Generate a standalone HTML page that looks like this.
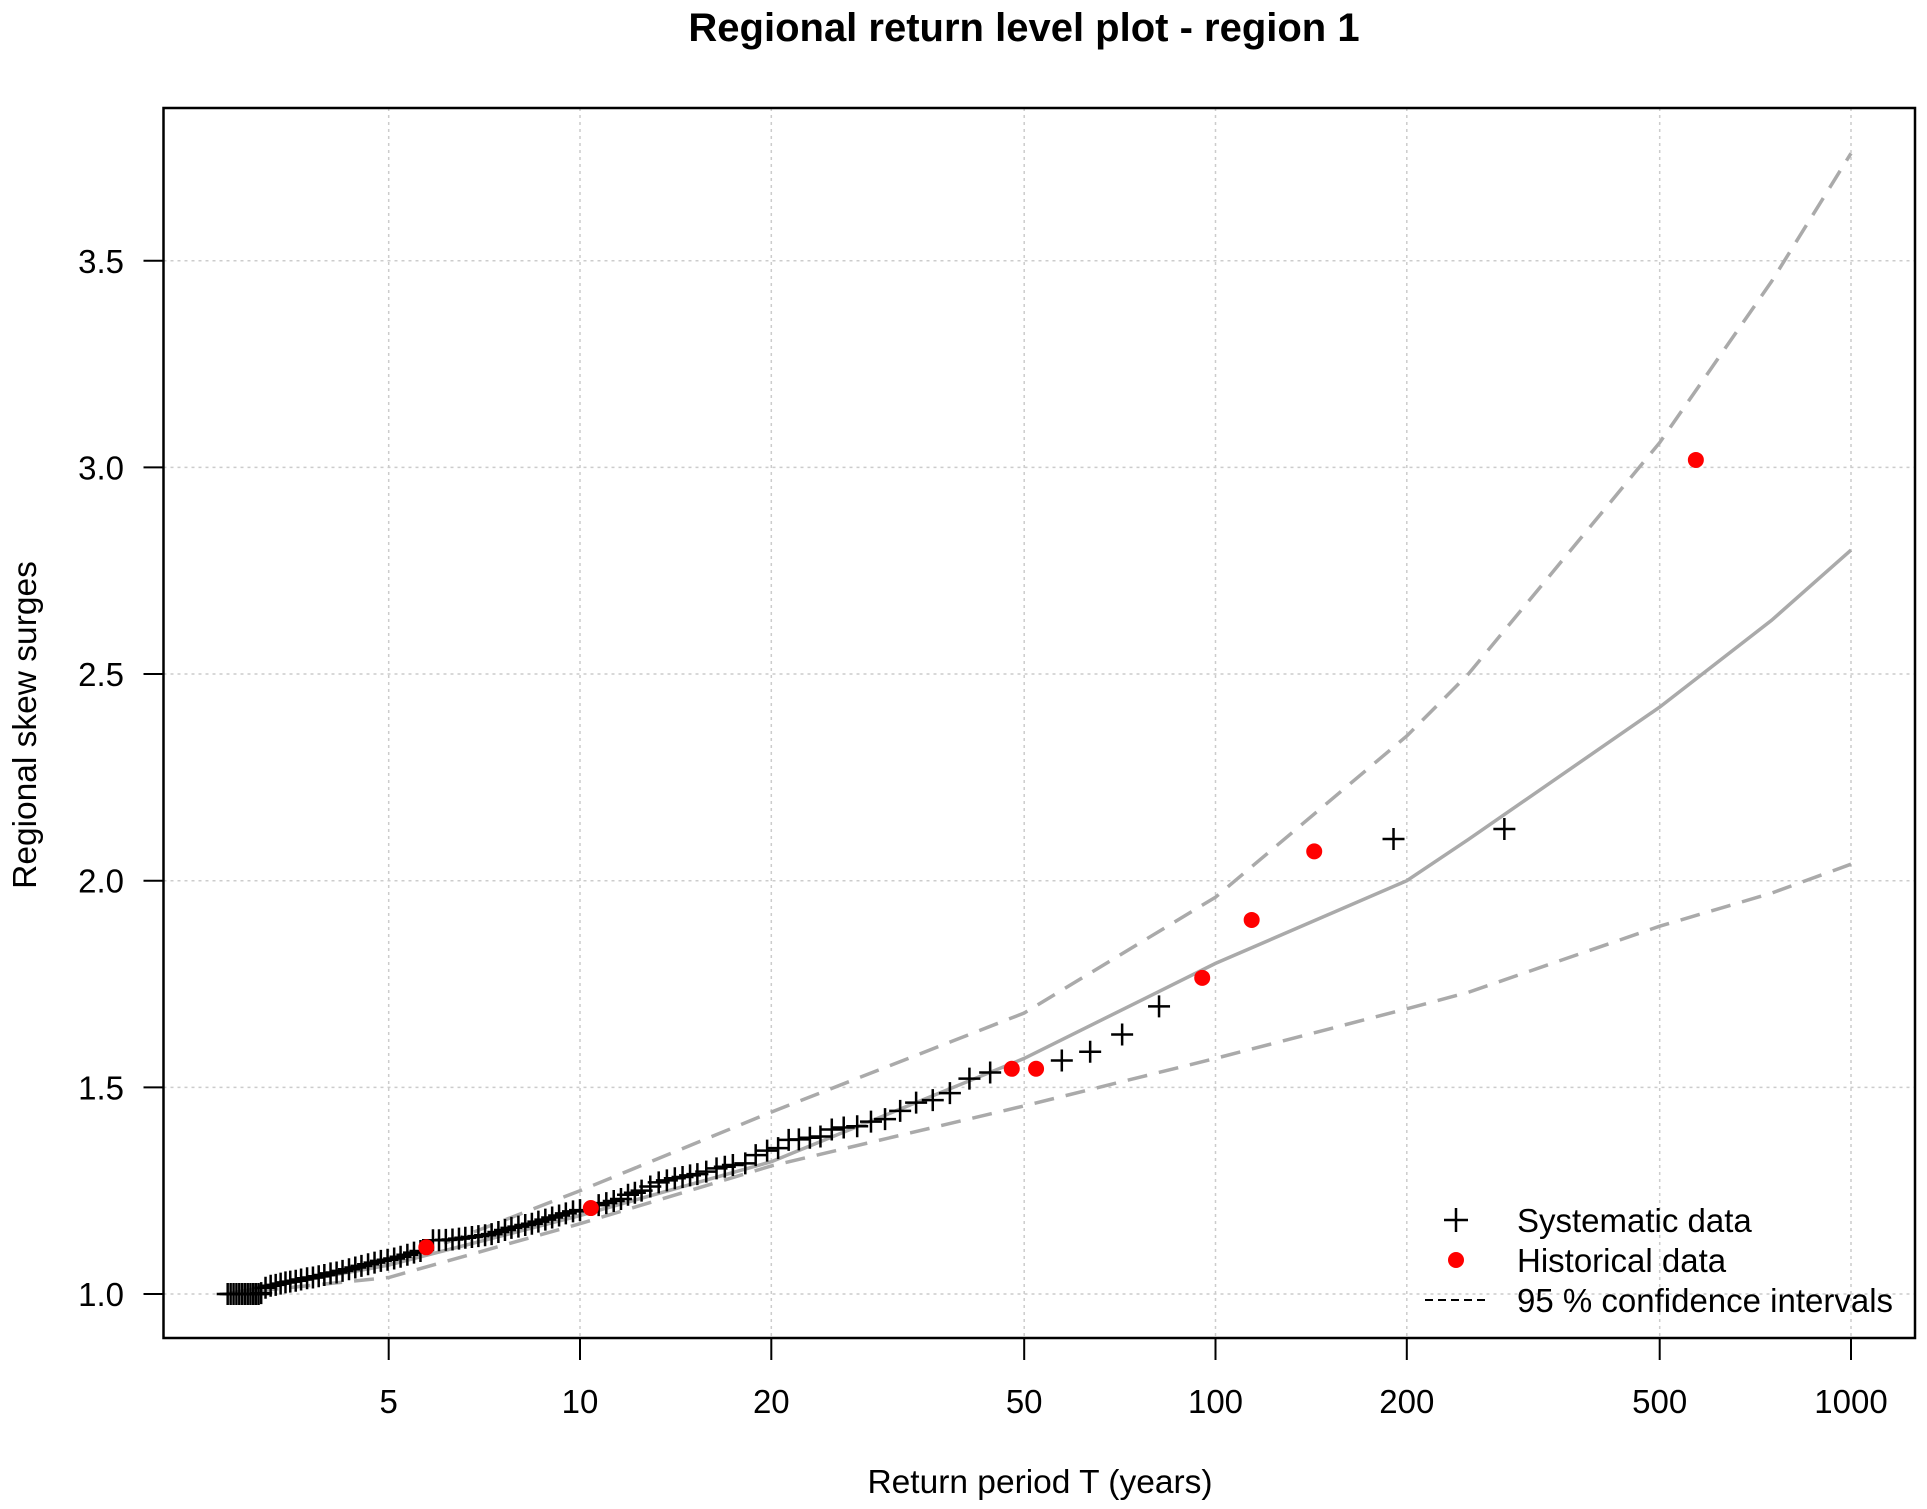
<!DOCTYPE html>
<html><head><meta charset="utf-8"><style>
html,body{margin:0;padding:0;background:#fff}
svg{display:block;font-family:"Liberation Sans",Arial,sans-serif}
</style></head><body>
<svg id="chart" width="1927" height="1509" viewBox="0 0 1927 1509" xmlns="http://www.w3.org/2000/svg">
<rect width="1927" height="1509" fill="#fff"/>
<g id="grid"></g>
<g id="lines"></g>
<g id="pts"></g>
<g id="axes"></g>
<text x="1024" y="41" text-anchor="middle" font-size="40" font-weight="bold">Regional return level plot - region 1</text>
<text x="1040" y="1493" text-anchor="middle" font-size="33.5">Return period T (years)</text>
<text transform="translate(36,725) rotate(-90)" text-anchor="middle" font-size="33.5">Regional skew surges</text>
<g>
  <g>
    <path d="M1444 1220h24M1456 1208v24" stroke="#000" stroke-width="2.5"/>
    <text x="1517" y="1232" font-size="33">Systematic data</text>
  </g>
  <g>
    <circle cx="1456" cy="1260" r="8" fill="#f00"/>
    <text x="1517" y="1272" font-size="33">Historical data</text>
  </g>
  <g>
    <line x1="1425" y1="1300" x2="1487" y2="1300" stroke="#000" stroke-width="2" stroke-dasharray="8,5"/>
    <text x="1517" y="1312" font-size="33">95 % confidence intervals</text>
  </g>
</g>
</svg>
<script>
const xTicks=[5,10,20,50,100,200,500,1000];
const yTicks=[1.0,1.5,2.0,2.5,3.0,3.5];
const curveT=[2.78,5,10,20,50,100,200,250,500,750,1000];
const fitVals=[1.0,1.07,1.19,1.32,1.57,1.80,2.0,2.10,2.42,2.63,2.80];
const upperVals=[1.0,1.07,1.25,1.44,1.68,1.96,2.35,2.50,3.06,3.45,3.76];
const lowerVals=[1.0,1.04,1.17,1.31,1.455,1.57,1.69,1.73,1.89,1.97,2.04];
const histT=[5.73,10.4,47.8,52.2,95.3,114,143,570];
const histVals=[1.113,1.208,1.545,1.545,1.765,1.905,2.071,3.018];
const sysT=[2.79,2.82,2.85,2.88,2.91,2.94,2.97,3.00,3.03,3.06,3.09,3.12,3.15,3.2,3.26,3.32,3.38,3.44,3.50,3.57,3.64,3.72,3.80,3.88,3.96,4.05,4.14,4.23,4.33,4.43,4.53,4.64,4.75,4.86,4.98,5.10,5.22,5.35,5.48,5.61,5.87,6.0,6.15,6.3,6.45,6.6,6.76,6.92,7.09,7.26,7.44,7.62,7.8,8.0,8.2,8.4,8.6,8.82,9.04,9.27,9.5,9.75,10.0,10.7,11.0,11.3,11.6,11.9,12.2,12.5,12.9,13.3,13.7,14.1,14.5,14.9,15.3,15.8,16.4,16.9,17.4,18.2,18.9,19.7,20.5,21.3,22.1,23.0,23.9,24.9,26.0,27.3,28.7,30.2,31.9,33.8,35.9,38.2,41.0,44.2,57.3,63.5,71.3,81.5,190.6,284.8];
const sysVals=[1.0,1.0,1.0,1.0,1.0,1.0,1.0,1.0,1.0,1.0,1.0,1.0,1.002,1.015,1.02,1.022,1.025,1.028,1.03,1.032,1.035,1.038,1.04,1.043,1.046,1.05,1.052,1.056,1.06,1.064,1.068,1.072,1.076,1.08,1.083,1.086,1.09,1.095,1.10,1.104,1.13,1.13,1.131,1.132,1.134,1.136,1.138,1.14,1.142,1.145,1.15,1.155,1.16,1.163,1.167,1.17,1.175,1.18,1.185,1.19,1.195,1.2,1.203,1.215,1.22,1.225,1.23,1.24,1.245,1.25,1.26,1.27,1.275,1.28,1.283,1.287,1.29,1.296,1.304,1.308,1.312,1.316,1.336,1.347,1.353,1.373,1.374,1.378,1.381,1.398,1.403,1.406,1.417,1.423,1.443,1.463,1.469,1.486,1.521,1.536,1.565,1.586,1.628,1.696,2.101,2.125];

const L=163.5,R=1915,T0=108,B=1338;
const xs=t=>580+635.5*Math.log10(t/10);
const ys=v=>1294-(v-1)*413.3;
const NS='http://www.w3.org/2000/svg';
function mk(tag,parent,attrs){const e=document.createElementNS(NS,tag);for(const k in attrs)e.setAttribute(k,attrs[k]);parent.appendChild(e);return e;}
const grid=document.getElementById('grid'),axes=document.getElementById('axes'),lines=document.getElementById('lines'),pts=document.getElementById('pts');

xTicks.forEach(t=>{
  const x=xs(t);
  const g=mk('line',grid,{x1:x,x2:x,y1:T0,y2:B,stroke:'#cccccc','stroke-width':1.5,'stroke-dasharray':'3,4'});
  
  
  const tk=mk('line',axes,{x1:x,x2:x,y1:B,y2:B+22,stroke:'#000','stroke-width':2});
  
  
  const lb=mk('text',axes,{x:x,y:1413,'text-anchor':'middle','font-size':33});
  lb.textContent=t;
  
  
});
yTicks.forEach(v=>{
  const y=ys(v);
  const g=mk('line',grid,{x1:L,x2:R,y1:y,y2:y,stroke:'#cccccc','stroke-width':1.5,'stroke-dasharray':'3,4'});
  
  
  const tk=mk('line',axes,{x1:L-20,x2:L,y1:y,y2:y,stroke:'#000','stroke-width':2});
  
  
  const lb=mk('text',axes,{x:124,y:y+12,'text-anchor':'end','font-size':33});
  lb.textContent=v.toFixed(1);
  
  
});
const box=mk('rect',axes,{x:L,y:T0,width:R-L,height:B-T0,fill:'none',stroke:'#000','stroke-width':2.5});



function path(vals,dash,name){
  const d=curveT.map((t,i)=>(i?'L':'M')+xs(t).toFixed(1)+' '+ys(vals[i]).toFixed(1)).join(' ');
  const p=mk('path',lines,{d:d,fill:'none',stroke:'#aaaaaa','stroke-width':3.5});
  if(dash)p.setAttribute('stroke-dasharray','20,12');
  
  
}
path(fitVals,false,'fitted-return-level-line');
path(upperVals,true,'upper-ci-line');
path(lowerVals,true,'lower-ci-line');

sysT.forEach((t,i)=>{
  const x=xs(t),y=ys(sysVals[i]);
  const c=mk('path',pts,{d:`M${x-11} ${y}h22M${x} ${y-11}v22`,stroke:'#000','stroke-width':2.5});
  
  
});
histT.forEach((t,i)=>{
  const c=mk('circle',pts,{cx:xs(t),cy:ys(histVals[i]),r:8,fill:'#ff0000'});
  
  
});
</script>
</body></html>
